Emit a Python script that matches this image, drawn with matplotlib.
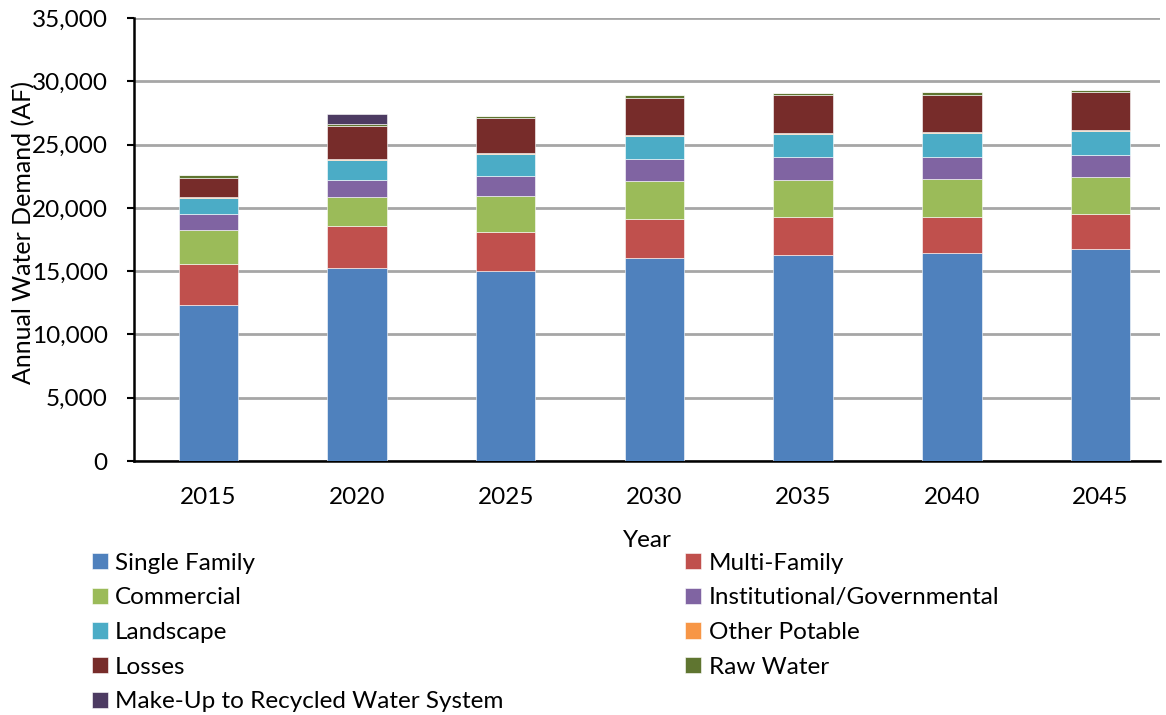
import matplotlib.pyplot as plt
import numpy as np

plt.rcParams['font.family'] = ['Lato', 'DejaVu Sans']

years = ['2015', '2020', '2025', '2030', '2035', '2040', '2045']

single_family = [12330, 15230, 15010, 16010, 16250, 16460, 16730]
multi_family = [3260, 3320, 3060, 3110, 3000, 2840, 2760]
commercial = [2640, 2320, 2840, 2980, 2950, 2980, 2950]
institutional = [1290, 1320, 1630, 1760, 1790, 1760, 1760]
landscape = [1260, 1580, 1740, 1790, 1820, 1850, 1850]
other_potable = [100, 100, 80, 100, 100, 80, 80]
losses = [1440, 2630, 2740, 2940, 2980, 2970, 3000]
raw_water = [300, 160, 180, 220, 160, 210, 180]
make_up = [0, 770, 0, 0, 0, 0, 0]

series = [
    ('Single Family', single_family, '#4F81BD'),
    ('Multi-Family', multi_family, '#C0504D'),
    ('Commercial', commercial, '#9BBB59'),
    ('Institutional/Governmental', institutional, '#8064A2'),
    ('Landscape', landscape, '#4BACC6'),
    ('Other Potable', other_potable, '#F79646'),
    ('Losses', losses, '#772C2A'),
    ('Raw Water', raw_water, '#5F7530'),
    ('Make-Up to Recycled Water System', make_up, '#4D3B62'),
]

fs = 17.5

fig = plt.figure(figsize=(11.66, 7.15), dpi=100)
ax = fig.add_axes([134/1166, 1 - 461/715, (1160-134)/1166, (461-18)/715])

x = np.arange(len(years))
bottom = np.zeros(len(years))
handles = {}
for name, vals, col in series:
    vals = np.array(vals, dtype=float)
    b = ax.bar(x, vals, 0.4, bottom=bottom, color=col, edgecolor='white',
               linewidth=0.4, label=name, zorder=3)
    handles[name] = b
    bottom += vals

ax.set_ylim(0, 35000)
ax.set_xlim(-0.5, 6.4)
ax.set_yticks(np.arange(0, 35001, 5000))
ax.set_yticklabels(['{:,}'.format(v) for v in range(0, 35001, 5000)])
ax.set_xticks(x)
ax.set_xticklabels(years)
ax.tick_params(axis='x', length=0, pad=19, labelsize=fs)
ax.tick_params(axis='y', length=5, width=1.5, pad=14, labelsize=fs)
ax.yaxis.grid(True, color='#A6A6A6', linewidth=2, zorder=0)
ax.set_axisbelow(True)
for s in ['top', 'right']:
    ax.spines[s].set_visible(False)
for s in ['left', 'bottom']:
    ax.spines[s].set_linewidth(1.8)

ax.set_ylabel('Annual Water Demand (AF)', fontsize=18)
ax.yaxis.set_label_coords(-0.0965, 0.515)
ax.set_xlabel('Year', fontsize=fs)
ax.xaxis.set_label_coords(0.5, -0.155)

order = ['Single Family', 'Commercial', 'Landscape', 'Losses',
         'Make-Up to Recycled Water System', 'Multi-Family',
         'Institutional/Governmental', 'Other Potable', 'Raw Water']
fig.legend([handles[n] for n in order], order, ncol=2, frameon=False,
           loc='upper left', bbox_to_anchor=(82/1166, 1 - 543/715),
           fontsize=fs, handlelength=0.65, handleheight=0.65, handletextpad=0.3,
           labelspacing=0.56, columnspacing=7.5, borderaxespad=0)

fig.savefig('out.png', dpi=100)
